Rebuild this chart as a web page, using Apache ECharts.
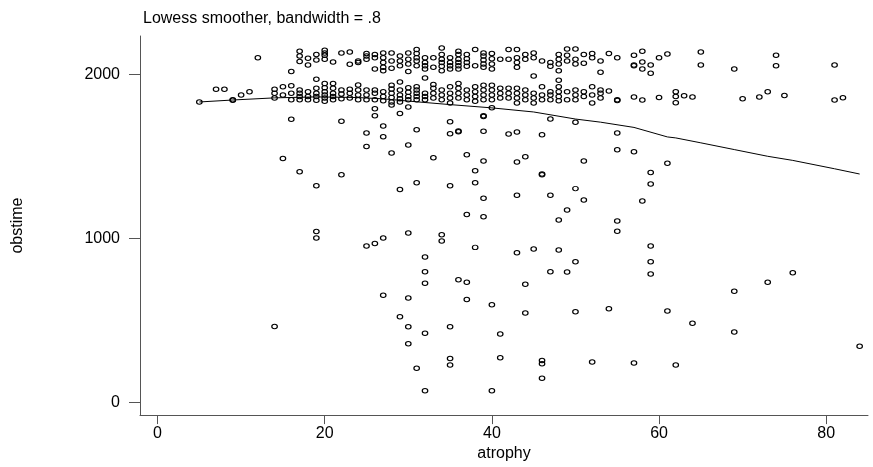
<!DOCTYPE html>
<html>
<head>
<meta charset="utf-8">
<script src="https://cdn.jsdelivr.net/npm/echarts@6/dist/echarts.min.js"></script>
<style>html,body{margin:0;padding:0;background:#fff}#c{width:873px;height:467px}</style>
</head>
<body>
<div id="c"></div>
<script>
// Scatter data: atrophy (x) and obstime (y), grouped by atrophy value
const atrophy = [
5,7,8,9,9,10,11,12,
14,14,14,14,
15,15,15,
16,16,16,16,16,
17,17,17,17,17,17,17,17,
18,18,18,18,18,
19,19,19,19,19,19,19,19,19,19,
20,20,20,20,20,20,20,20,20,20,
21,21,21,21,21,21,
22,22,22,22,22,22,
23,23,23,23,23,
24,24,24,24,24,24,
25,25,25,25,25,25,25,25,25,
26,26,26,26,26,26,26,26,26,
27,27,27,27,27,27,27,27,27,27,27,27,
28,28,28,28,28,28,28,28,28,28,
29,29,29,29,29,29,29,29,29,29,29,
30,30,30,30,30,30,30,30,30,30,30,30,30,30,
31,31,31,31,31,31,31,31,31,31,31,31,31,
32,32,32,32,32,32,32,32,32,32,32,32,32,
33,33,33,33,33,33,33,
34,34,34,34,34,34,34,34,34,34,34,
35,35,35,35,35,35,35,35,35,35,35,35,35,35,
36,36,36,36,36,36,36,36,36,36,36,36,36,
37,37,37,37,37,37,37,37,37,37,37,
38,38,38,38,38,38,38,38,38,
39,39,39,39,39,39,39,39,39,39,39,39,39,39,39,
40,40,40,40,40,40,40,40,40,40,40,
41,41,41,41,41,41,
42,42,42,42,42,42,
43,43,43,43,43,43,43,43,43,43,43,43,
44,44,44,44,44,44,44,44,
45,45,45,45,45,45,45,
46,46,46,46,46,46,46,46,46,46,
47,47,47,47,47,47,47,47,
48,48,48,48,48,48,48,48,48,48,48,
49,49,49,49,49,49,49,
50,50,50,50,50,50,50,50,50,50,
51,51,51,51,51,51,
52,52,52,52,52,52,
53,53,53,53,53,
54,54,54,
55,55,55,55,55,55,55,
57,57,57,57,57,57,
58,58,58,58,58,
59,59,59,59,59,59,59,
60,60,
61,61,61,
62,62,62,62,
63,
64,64,
65,65,
69,69,69,
70,72,
73,73,
74,74,
75,76,
81,81,82,84
];
const obstime = [
1831,1908,1908,1841,1845,1874,1894,2101,
1908,1884,1855,463,
1924,1874,1487,
2016,1930,1884,1845,1726,
2140,2111,2077,1904,1884,1865,1845,1406,
2097,2056,1894,1865,1845,
2120,2087,1969,1914,1884,1865,1841,1321,1041,1002,
2146,2130,2115,2091,1943,1918,1894,1874,1855,1835,
2075,1943,1914,1884,1865,1845,
2130,1904,1880,1851,1713,1388,
2136,2061,1908,1884,1855,
2081,2071,1935,1904,1874,1845,
2126,2111,2091,1904,1874,1845,1642,1559,953,
2121,2101,2032,1904,1884,1845,1790,1747,969,
2130,2101,2071,2042,2022,1894,1865,1839,1684,1619,1002,654,
2130,2081,2036,1933,1910,1884,1859,1831,1812,1520,
2111,2081,2052,1953,1904,1874,1851,1831,1761,1298,522,
2130,2091,2062,2016,1918,1890,1865,1845,1800,1569,1032,636,461,358,
2150,2126,2101,2081,2052,1924,1904,1884,1865,1845,1662,1339,208,
2101,2071,2052,2032,1977,1884,1865,1845,886,797,726,421,71,
2101,2042,1937,1914,1884,1855,1491,
2160,2121,2091,2071,2048,2022,1904,1874,1845,1022,984,
2101,2071,2052,2032,1924,1884,1855,1825,1711,1638,1320,461,268,228,
2140,2121,2091,2071,2052,2032,1943,1914,1884,1855,1654,1650,748,
2121,2095,2071,2048,1904,1874,1845,1510,1146,732,628,
2150,2052,1924,1894,1865,1835,1412,1339,945,
2130,2111,2087,2062,2042,1933,1904,1874,1845,1747,1743,1652,1471,1244,1132,
2126,2095,2062,2032,1933,1904,1874,1845,1796,596,71,
2091,1914,1884,1855,417,273,
2150,2091,1914,1884,1855,1636,
2150,2101,2071,2042,1914,1884,1855,1825,1648,1465,1263,913,
2121,2091,1904,1874,1845,1497,720,545,
2130,2101,1989,1884,1855,1825,935,
2081,1924,1874,1845,1631,1392,1388,256,236,147,
2071,2048,1894,1874,1845,1727,1263,797,
2121,2091,2062,2022,1963,1924,1894,1865,1839,1112,929,
2154,2115,2081,1894,1845,1173,795,
2154,2091,2062,1904,1874,1845,1707,1303,857,553,
2121,2067,1894,1865,1471,1234,
2126,2101,1924,1874,1825,246,
2081,2012,1904,1884,1855,
2126,1898,571,
2101,1845,1840,1642,1540,1106,1044,
2116,2056,2052,1861,1527,240,
2140,2075,2032,1843,1228,
2056,2006,1402,1331,953,857,783,
2101,1859,
2124,1457,557,
1894,1865,1827,228,
1869,
1861,482,
2136,2057,
2032,677,429,
1851,1861,
1894,732,
2116,2052,
1871,791,
2057,1843,1857,342
];
// Lowess smoother (bandwidth .8)
const lowessX = [5, 9, 14, 19, 24, 27, 31, 35, 40, 45, 50, 53, 57, 61, 62, 65, 69, 73, 76, 81, 84];
const lowessY = [1831, 1843, 1856, 1862, 1858, 1850, 1832, 1815, 1795, 1770, 1727, 1708, 1676, 1618, 1612, 1582, 1541, 1500, 1475, 1424, 1392];
const xTicks = [0, 20, 40, 60, 80];
const yTicks = [0, 1000, 2000];

const pts = atrophy.map((a, i) => [a, obstime[i]]);
const lw = lowessX.map((a, i) => [a, lowessY[i]]);
const font = 'Liberation Sans, Arial, sans-serif';
const chart = echarts.init(document.getElementById('c'), null, {renderer: 'canvas'});
chart.setOption({
  animation: false,
  backgroundColor: '#fff',
  title: {
    text: 'Lowess smoother, bandwidth = .8',
    left: 138, top: 6,
    textStyle: {fontFamily: font, fontSize: 16, fontWeight: 'normal', color: '#000'}
  },
  grid: {left: 140, right: 5, top: 36, bottom: 40, containLabel: false},
  xAxis: {
    type: 'value', min: -2.1, max: 85,
    name: 'atrophy', nameLocation: 'middle', nameGap: 24,
    nameTextStyle: {fontFamily: font, fontSize: 16, color: '#000'},
    axisLine: {show: true, onZero: false, lineStyle: {color: '#555', width: 1}},
    axisTick: {show: true, inside: false, length: 9, customValues: xTicks, lineStyle: {color: '#555'}},
    axisLabel: {customValues: xTicks, margin: 10, fontFamily: font, fontSize: 16, color: '#000', formatter: v => String(v)},
    splitLine: {show: false}
  },
  yAxis: {
    type: 'value', min: -77, max: 2233,
    name: 'obstime', nameLocation: 'middle', nameGap: 114, nameRotate: 90,
    nameTextStyle: {fontFamily: font, fontSize: 16, color: '#000'},
    axisLine: {show: true, onZero: false, lineStyle: {color: '#555', width: 1}},
    axisTick: {show: true, inside: false, length: 11, customValues: yTicks, lineStyle: {color: '#555'}},
    axisLabel: {customValues: yTicks, margin: 20, fontFamily: font, fontSize: 16, color: '#000', formatter: v => String(v)},
    splitLine: {show: false}
  },
  series: [
    {
      type: 'scatter', data: pts, symbol: 'circle', symbolSize: [5.5, 4.5],
      itemStyle: {color: 'rgba(255,255,255,0)', borderColor: '#000', borderWidth: 1.1, opacity: 1},
      z: 2
    },
    {
      type: 'line', data: lw, showSymbol: false, symbol: 'none', smooth: false,
      lineStyle: {color: '#000', width: 1}, z: 3
    }
  ]
});
</script>
</body>
</html>
